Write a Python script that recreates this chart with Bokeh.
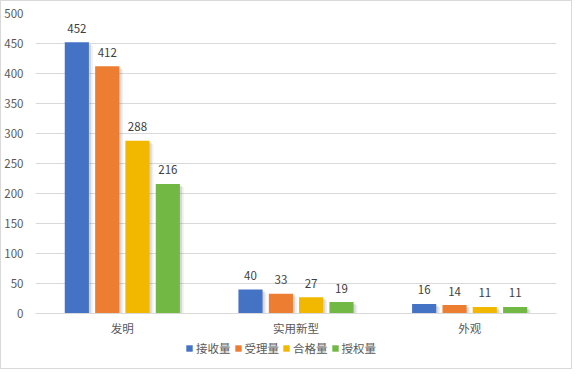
from bokeh.plotting import figure
from bokeh.models import ColumnDataSource, FactorRange, Legend, LegendItem, SingleIntervalTicker
from bokeh.layouts import column
from bokeh.transform import dodge
from bokeh.core.properties import value
from bokeh.embed import file_html
from bokeh.resources import INLINE

categories = ["发明", "实用新型", "外观"]
series_names = ["接收量", "受理量", "合格量", "授权量"]
received = [452, 40, 16]
accepted = [412, 33, 14]
qualified = [288, 27, 11]
granted = [216, 19, 11]
colors = ["#4472C4", "#ED7D31", "#F2B800", "#72B844"]
offsets = [-0.262, -0.087, 0.087, 0.262]

FONT = "Noto Sans CJK SC"
FS = "11.5px"

src = ColumnDataSource(data=dict(cat=categories, s0=received, s1=accepted, s2=qualified, s3=granted))

p = figure(x_range=FactorRange(*categories, range_padding=0), y_range=(0, 500),
           width=570, height=337, output_backend="svg", toolbar_location=None,
           min_border_left=32, min_border_right=15, min_border_top=12, min_border_bottom=23)

p.outline_line_color = None
p.background_fill_color = "white"
p.border_fill_color = "white"

bw = 0.139
for i, (name, off, col) in enumerate(zip(series_names, offsets, colors)):
    field = f"s{i}"
    # soft shadow
    p.vbar(x=dodge("cat", off + 0.022, range=p.x_range), top=dodge(field, -5), width=bw, source=src,
           fill_color="#808080", fill_alpha=0.12, line_color=None)
    p.vbar(x=dodge("cat", off + 0.012, range=p.x_range), top=dodge(field, -3), width=bw, source=src,
           fill_color="#808080", fill_alpha=0.22, line_color=None)
    p.vbar(x=dodge("cat", off, range=p.x_range), top=field, width=bw, source=src,
           fill_color=col, line_color=None)
    p.text(x=dodge("cat", off, range=p.x_range), y=field, text=field, source=src,
           text_align="center", text_baseline="middle", y_offset=-14,
           text_font=value(FONT), text_font_size=FS, text_color="#404040")

p.yaxis.ticker = SingleIntervalTicker(interval=50)
p.yaxis.axis_line_color = None
p.yaxis.major_tick_line_color = None
p.yaxis.minor_tick_line_color = None
p.yaxis.major_label_standoff = 6
p.yaxis.major_label_text_font = FONT
p.yaxis.major_label_text_font_size = FS
p.yaxis.major_label_text_color = "#595959"

p.xaxis.axis_line_color = "#d9d9d9"
p.xaxis.major_tick_line_color = None
p.xaxis.minor_tick_line_color = None
p.xaxis.major_label_standoff = 0
p.xaxis.major_label_text_font = FONT
p.xaxis.major_label_text_font_size = FS
p.xaxis.major_label_text_color = "#595959"

p.xgrid.grid_line_color = None
p.ygrid.grid_line_color = "#d9d9d9"

# legend strip below the chart
p2 = figure(x_range=FactorRange(*categories), y_range=(0, 1), width=570, height=30,
            output_backend="svg", toolbar_location=None,
            min_border_left=0, min_border_right=0, min_border_top=0, min_border_bottom=0)
p2.axis.visible = False
p2.grid.grid_line_color = None
p2.outline_line_color = None
legend_renderers = []
for i, (name, col) in enumerate(zip(series_names, colors)):
    r = p2.vbar(x="cat", top=f"s{i}", width=0.1, source=src, fill_color=col, line_color=None)
    r.visible = False
    legend_renderers.append(r)

legend = Legend(items=[LegendItem(label=n, renderers=[r]) for n, r in zip(series_names, legend_renderers)],
                orientation="horizontal", location=(150, 12),
                glyph_width=8, glyph_height=8, label_standoff=3, spacing=3,
                padding=0, margin=0, border_line_color=None, background_fill_alpha=0,
                label_text_font=FONT, label_text_font_size=FS, label_text_color="#595959")
p2.add_layout(legend, "center")

layout = column(p, p2, spacing=0)
layout.styles = {"border": "1px solid #d9d9d9"}

open("out.html", "w").write(file_html(layout, INLINE))
